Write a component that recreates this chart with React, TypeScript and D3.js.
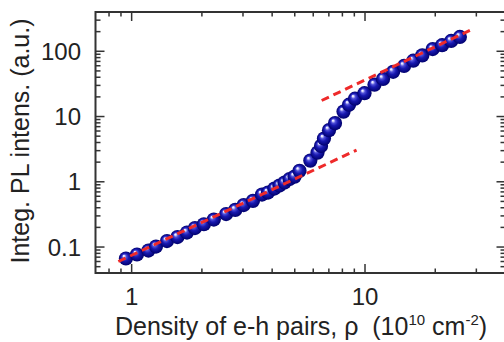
import React from "react";
import * as d3 from "d3";

const densityX = [0.945, 1.054, 1.18, 1.271, 1.417, 1.571, 1.726, 1.867, 2.04, 2.25, 2.54, 2.78, 3.02, 3.31, 3.62, 3.84, 4.09, 4.3, 4.52, 4.75, 4.99, 5.24, 5.83, 6.26, 6.48, 6.67, 7.01, 7.44, 8.09, 8.54, 9.06, 9.95, 10.98, 11.95, 13.2, 14.7, 16.1, 17.6, 19.5, 21.4, 23.4, 25.5];
const intensityY = [0.0667, 0.0768, 0.0884, 0.1018, 0.1236, 0.1423, 0.1667, 0.1954, 0.2234, 0.2636, 0.32, 0.371, 0.44, 0.51, 0.637, 0.684, 0.787, 0.875, 0.972, 1.1, 1.2, 1.47, 2.11, 2.8, 3.55, 4.59, 6.19, 7.93, 11.9, 15.2, 18.8, 22.8, 30.8, 37.7, 48.4, 59.6, 71.8, 86.5, 108, 124, 144, 166];

const fitLowX = [0.877, 9.2];
const fitLowY = [0.06, 3.06];
const fitHighX = [6.52, 28.2];
const fitHighY = [17.6, 210];

const xMajorTicks = [1, 10];
const xMinorTicks = [0.8, 0.9, 2, 3, 4, 5, 6, 7, 8, 9, 20, 30];
const yMajorTicks = [0.1, 1, 10, 100];
const yMinorTicks = [0.05, 0.06, 0.07, 0.08, 0.09, 0.2, 0.3, 0.4, 0.5, 0.6, 0.7, 0.8, 0.9, 2, 3, 4, 5, 6, 7, 8, 9, 20, 30, 40, 50, 60, 70, 80, 90, 200, 300];
const yTickLabels = ["0.1", "1", "10", "100"];
const xTickLabels = ["1", "10"];

export default function App() {
  const W = 504, H = 342;
  const left = 95.5, right = 505.5, top = 12, bottom = 273;
  const x = d3.scaleLog().domain([0.7, 40]).range([left, right]);
  const y = d3.scaleLog().domain([0.04, 400]).range([bottom, top]);
  const axisColor = "#333";
  const font = "'Liberation Sans', Arial, sans-serif";
  const seg = (xs: number[], ys: number[]) =>
    d3.line<[number, number]>().x(d => x(d[0])).y(d => y(d[1]))(xs.map((v, i) => [v, ys[i]] as [number, number])) || "";

  return (
    <svg width={W} height={H} style={{ position: "absolute", left: 0, top: 0 }}>
      <defs>
        <radialGradient id="ball" cx="0.5" cy="0.5" r="0.5" fx="0.34" fy="0.3">
          <stop offset="0%" stopColor="#ffffff" />
          <stop offset="10%" stopColor="#e4e4ff" />
          <stop offset="30%" stopColor="#5050d8" />
          <stop offset="55%" stopColor="#1818b0" />
          <stop offset="100%" stopColor="#00006c" />
        </radialGradient>
        <clipPath id="plot">
          <rect x={left} y={top} width={right - left} height={bottom - top} />
        </clipPath>
      </defs>
      <rect width={W} height={H} fill="#fff" />

      <g>
        {densityX.map((v, i) => (
          <circle key={i} cx={x(v)} cy={y(intensityY[i])} r={7.1} fill="url(#ball)" />
        ))}
      </g>

      <g clipPath="url(#plot)" fill="none" stroke="#ee2a2a" strokeWidth={3} strokeDasharray="8,5">
        <path d={seg(fitLowX, fitLowY)} />
        <path d={seg(fitHighX, fitHighY)} />
      </g>

      <rect x={left} y={top} width={right - left} height={bottom - top} fill="none" stroke={axisColor} strokeWidth={2} />

      <g stroke={axisColor} strokeWidth={1.5}>
        {xMajorTicks.map((t, i) => (
          <g key={"xm" + i}>
            <line x1={x(t)} x2={x(t)} y1={bottom} y2={bottom - 9} />
            <line x1={x(t)} x2={x(t)} y1={top} y2={top + 9} />
          </g>
        ))}
        {xMinorTicks.map((t, i) => (
          <g key={"xn" + i}>
            <line x1={x(t)} x2={x(t)} y1={bottom} y2={bottom - 4.5} />
            <line x1={x(t)} x2={x(t)} y1={top} y2={top + 4.5} />
          </g>
        ))}
        {yMajorTicks.map((t, i) => (
          <g key={"ym" + i}>
            <line x1={left} x2={left + 9} y1={y(t)} y2={y(t)} />
            <line x1={right} x2={right - 9} y1={y(t)} y2={y(t)} />
          </g>
        ))}
        {yMinorTicks.map((t, i) => (
          <g key={"yn" + i}>
            <line x1={left} x2={left + 5} y1={y(t)} y2={y(t)} />
            <line x1={right} x2={right - 5} y1={y(t)} y2={y(t)} />
          </g>
        ))}
      </g>

      <g fontFamily={font} fontSize={24} fill="#222">
        {yMajorTicks.map((t, i) => (
          <text key={"yl" + i} x={81} y={y(t)} textAnchor="end" dominantBaseline="central">
            {yTickLabels[i]}
          </text>
        ))}
        {xMajorTicks.map((t, i) => (
          <text key={"xl" + i} x={x(t)} y={305} textAnchor="middle">
            {xTickLabels[i]}
          </text>
        ))}
      </g>

      <text x={301} y={335} textAnchor="middle" fontFamily={font} fontSize={25} fill="#222" xmlSpace="preserve">
        <tspan>{"Density of e-h pairs, ρ  (10"}</tspan>
        <tspan fontSize={15} dy={-10}>10</tspan>
        <tspan dy={10}>{" cm"}</tspan>
        <tspan fontSize={15} dy={-10}>-2</tspan>
        <tspan dy={10}>)</tspan>
      </text>
      <text
        transform={`translate(28.5,141) rotate(-90)`}
        textAnchor="middle"
        fontFamily={font}
        fontSize={25}
        fill="#222"
      >
        Integ. PL intens. (a.u.)
      </text>
    </svg>
  );
}
